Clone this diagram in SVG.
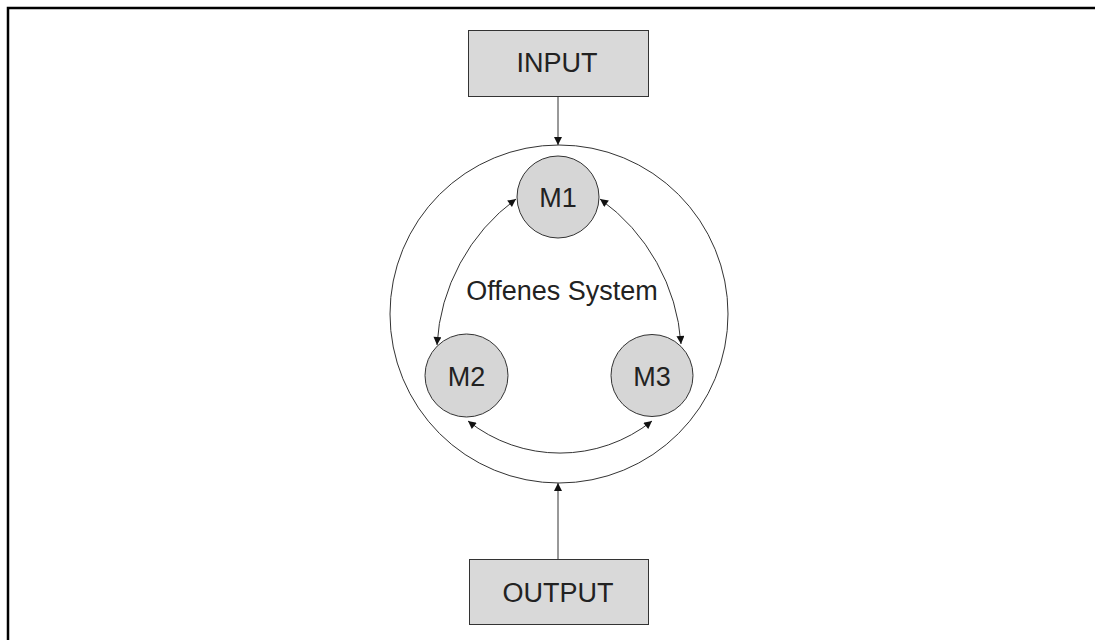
<svg xmlns="http://www.w3.org/2000/svg" width="1095" height="640" viewBox="0 0 1095 640">
  <defs>
    <marker id="ah" viewBox="0 0 10 10" refX="10" refY="5" markerWidth="11" markerHeight="8" markerUnits="userSpaceOnUse" orient="auto-start-reverse">
      <path d="M0,0 L10,5 L0,10 Z" fill="#111"/>
    </marker>
    <style>
      .box { fill: #d9d9d9; stroke: #333; stroke-width: 1; }
      .node { fill: #d6d6d6; stroke: #333; stroke-width: 1; }
      .lbl { font-family: "Liberation Sans", Arial, sans-serif; font-size: 27px; fill: #222; text-anchor: middle; }
      .conn { fill: none; stroke: #333; stroke-width: 1; }
    </style>
  </defs>
  <rect width="1095" height="640" fill="#fff"/>
  <path d="M8,640 V8 H1095" fill="none" stroke="#000" stroke-width="2.5"/>

  <g id="system">
    <circle cx="559" cy="314" r="169" fill="none" stroke="#333" stroke-width="1"/>
    <text class="lbl" x="562" y="300">Offenes System</text>
  </g>

  <g id="input">
    <rect class="box" x="468.5" y="30.5" width="180" height="66"/>
    <text class="lbl" x="557" y="72">INPUT</text>
  </g>

  <g id="output">
    <rect class="box" x="469.5" y="559.5" width="179" height="65"/>
    <text class="lbl" x="558" y="602">OUTPUT</text>
  </g>

  <g id="m1">
    <circle class="node" cx="558" cy="197" r="41"/>
    <text class="lbl" x="558" y="207">M1</text>
  </g>
  <g id="m2">
    <circle class="node" cx="466.5" cy="375.5" r="41.5"/>
    <text class="lbl" x="466.5" y="386">M2</text>
  </g>
  <g id="m3">
    <circle class="node" cx="652" cy="375.5" r="41"/>
    <text class="lbl" x="652" y="386">M3</text>
  </g>

  <g id="connectors">
    <line class="conn" x1="558" y1="96" x2="558" y2="145" marker-end="url(#ah)"/>
    <line class="conn" x1="558" y1="559" x2="558" y2="483" marker-end="url(#ah)"/>
    <path class="conn" d="M516,199 A195,195 0 0 0 437,345" marker-start="url(#ah)" marker-end="url(#ah)"/>
    <path class="conn" d="M600,199 A195,195 0 0 1 681,344" marker-start="url(#ah)" marker-end="url(#ah)"/>
    <path class="conn" d="M468,421 A148,148 0 0 0 652,421" marker-start="url(#ah)" marker-end="url(#ah)"/>
  </g>
</svg>
